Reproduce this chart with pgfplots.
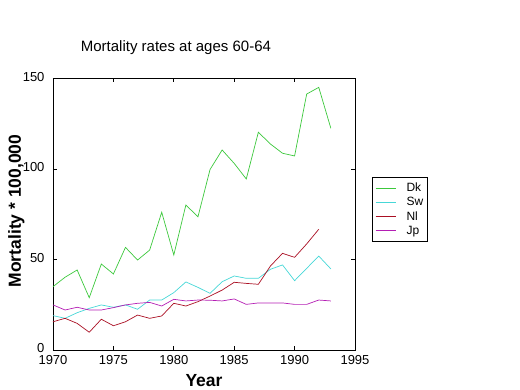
\documentclass[border=0pt]{standalone}
\usepackage{fontspec}
\setmainfont{Liberation Sans}
\usepackage{pgfplots}
\pgfplotsset{compat=1.18}
\definecolor{cDk}{RGB}{60,200,60}
\definecolor{cSw}{RGB}{70,215,215}
\definecolor{cNl}{RGB}{170,15,35}
\definecolor{cJp}{RGB}{180,30,180}
\begin{document}
\begin{tikzpicture}
\path[use as bounding box] (0pt,0pt) rectangle (520pt,390pt);
\begin{axis}[
  at={(53pt,40pt)}, anchor=south west,
  scale only axis, width=302pt, height=271.5pt,
  xmin=1970, xmax=1995, ymin=0, ymax=150,
  xtick={1970,1975,...,1995}, ytick={0,50,100,150},
  /pgf/number format/1000 sep={},
  /pgf/number format/assume math mode=true,
  tick label style={font=\fontsize{13}{15}\selectfont},
  yticklabel style={xshift=-5pt, yshift=1.5pt},
  xticklabel style={yshift=-2pt},
  major tick length=4pt,
  tick align=inside,
  axis line style={line width=0.8pt},
  every tick/.style={line width=0.8pt, black},
  title={Mortality rates at ages 60-64},
  title style={at={(rel axis cs:0.407,1.079)}, anchor=base, font=\fontsize{15}{18}\selectfont},
  xlabel={Year},
  xlabel style={at={(rel axis cs:0.5,-0.135)}, anchor=base, font=\fontsize{17.5}{20}\selectfont\bfseries},
  ylabel={Mortality * 100,000},
  ylabel style={at={(rel axis cs:-0.121,0.512)}, anchor=center, font=\fontsize{17.5}{20}\selectfont\bfseries},
  legend style={at={(rel axis cs:1.056,0.637)}, anchor=north west, draw=black, line width=0.8pt,
    font=\fontsize{12}{14}\selectfont, inner xsep=3pt, inner ysep=4pt, row sep=1.2pt,
    nodes={inner sep=1.5pt}},
  legend cell align=left,
  legend image code/.code={\draw[#1, line width=0.8pt] (0pt,0pt) -- (20pt,0pt); \path (29pt,0pt);},
  every axis plot/.append style={line width=0.7pt},
]
\addplot[cDk] coordinates {(1970,35.0)(1971,40.2)(1972,44.2)(1973,28.9)(1974,47.5)(1975,42.0)(1976,56.7)(1977,49.7)(1978,55.2)(1979,76.1)(1980,52.5)(1981,80.1)(1982,73.6)(1983,99.7)(1984,110.5)(1985,103.1)(1986,94.5)(1987,120.3)(1988,113.8)(1989,108.7)(1990,107.2)(1991,141.4)(1992,145.1)(1993,122.5)};
\addlegendentry{Dk}
\addplot[cSw] coordinates {(1970,19.0)(1971,17.5)(1972,20.6)(1973,23.0)(1974,24.9)(1975,23.6)(1976,24.9)(1977,22.5)(1978,27.6)(1979,27.6)(1980,31.7)(1981,37.6)(1982,34.6)(1983,31.3)(1984,37.7)(1985,40.9)(1986,39.6)(1987,39.6)(1988,44.6)(1989,47.0)(1990,38.3)(1991,45.1)(1992,51.9)(1993,44.8)};
\addlegendentry{Sw}
\addplot[cNl] coordinates {(1970,15.6)(1971,17.5)(1972,14.7)(1973,9.8)(1974,17.0)(1975,13.4)(1976,15.6)(1977,19.3)(1978,17.5)(1979,18.8)(1980,25.8)(1981,24.3)(1982,26.7)(1983,29.8)(1984,33.1)(1985,37.4)(1986,36.8)(1987,36.3)(1988,46.4)(1989,53.4)(1990,51.2)(1991,58.6)(1992,66.7)};
\addlegendentry{Nl}
\addplot[cJp] coordinates {(1970,24.9)(1971,22.1)(1972,23.6)(1973,22.1)(1974,22.1)(1975,23.4)(1976,24.9)(1977,25.8)(1978,26.3)(1979,24.3)(1980,28.0)(1981,27.1)(1982,27.6)(1983,27.5)(1984,27.1)(1985,28.2)(1986,25.2)(1987,26.0)(1988,26.0)(1989,26.0)(1990,25.2)(1991,25.2)(1992,27.6)(1993,27.1)};
\addlegendentry{Jp}
\end{axis}
\end{tikzpicture}
\end{document}
